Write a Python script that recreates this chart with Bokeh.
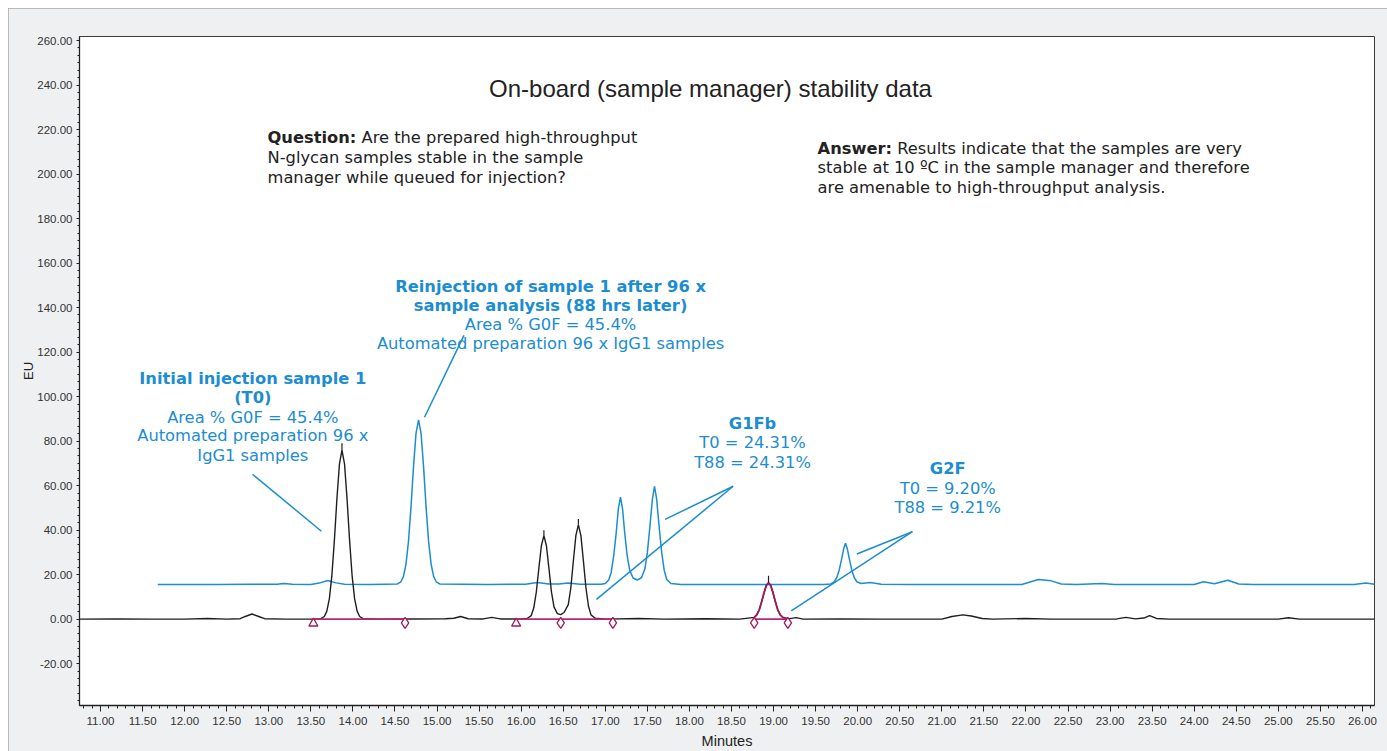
import numpy as np
from bokeh.plotting import figure
from bokeh.models import Range1d, FixedTicker, PrintfTickFormatter, Label
from bokeh.embed import file_html
from bokeh.resources import INLINE

# ---------------- data ----------------
# T0 (initial injection) trace, minutes / EU
t0_time = [10.75, 11.20, 11.60, 12.00, 12.27, 12.50, 12.66, 12.72, 12.80, 12.88, 12.95,
           13.20, 13.50, 13.62, 13.66, 13.69, 13.72, 13.75, 13.78, 13.81, 13.84, 13.87,
           13.90, 13.93, 13.96, 13.99, 14.02, 14.05, 14.08, 14.12, 14.30, 14.70, 15.10,
           15.20, 15.28, 15.37, 15.55, 15.65, 15.75, 16.00, 16.07, 16.12, 16.15, 16.18,
           16.21, 16.24, 16.27, 16.30, 16.33, 16.36, 16.39, 16.43, 16.47, 16.51, 16.56,
           16.59, 16.62, 16.65, 16.68, 16.71, 16.74, 16.77, 16.80, 16.83, 16.88, 17.00,
           17.40, 17.70, 18.20, 18.60, 18.77, 18.80, 18.83, 18.86, 18.89, 18.915, 18.94,
           18.965, 18.99, 19.02, 19.05, 19.08, 19.11, 19.17, 19.27, 19.35, 19.80, 20.30,
           21.00, 21.12, 21.25, 21.35, 21.48, 21.60, 22.00, 22.30, 23.08, 23.19, 23.30,
           23.40, 23.47, 23.55, 23.70, 25.00, 25.12, 25.25, 26.143]
t0_eu = [0.0, 0.1, 0.0, 0.0, 0.3, 0.0, 0.2, 1.2, 2.3, 1.2, 0.2,
         0.0, 0.0, 0.2, 1.2, 3.6, 9.2, 19.7, 35.6, 54.2, 69.8, 76.0,
         69.8, 54.2, 35.6, 19.7, 9.2, 3.6, 1.2, 0.2, 0.0, 0.1, 0.2,
         0.4, 1.2, 0.2, 0.1, 0.8, 0.1, 0.1, 0.3, 1.6, 5.1, 12.2,
         22.8, 33.0, 37.5, 33.0, 22.8, 12.2, 5.5, 2.5, 2.0, 3.0, 6.5,
         14.0, 26.0, 37.5, 42.5, 37.5, 26.0, 14.0, 5.8, 1.9, 0.4, 0.0,
         0.3, 0.0, 0.2, 0.0, 0.8, 1.9, 4.2, 8.0, 12.3, 15.2, 16.3,
         15.2, 12.3, 8.0, 4.2, 1.9, 0.8, 0.1, 0.7, 0.0, 0.1, 0.0,
         0.0, 1.2, 1.9, 1.4, 0.3, 0.0, 0.3, 0.0, 0.1, 0.8, 0.1,
         0.5, 1.6, 0.3, 0.0, 0.0, 0.6, 0.0, 0.0]

# T88 (reinjection 88 hrs later) trace, minutes / EU
t88_time = [11.68, 12.00, 12.40, 12.80, 13.10, 13.18, 13.28, 13.50, 13.60, 13.70, 13.80,
            13.90, 14.20, 14.53, 14.57, 14.60, 14.63, 14.66, 14.69, 14.72, 14.75, 14.78,
            14.81, 14.84, 14.87, 14.90, 14.93, 14.96, 14.99, 15.03, 15.60, 16.05, 16.19,
            16.33, 16.45, 16.56, 16.70, 16.95, 17.00, 17.04, 17.07, 17.10, 17.13, 17.155,
            17.18, 17.205, 17.23, 17.26, 17.29, 17.33, 17.38, 17.43, 17.47, 17.50, 17.53,
            17.56, 17.585, 17.61, 17.64, 17.67, 17.70, 17.73, 17.78, 17.90, 18.40, 19.00,
            19.60, 19.68, 19.72, 19.75, 19.78, 19.81, 19.835, 19.855, 19.875, 19.90, 19.93,
            19.96, 19.99, 20.04, 20.15, 20.28, 20.60, 21.50, 21.95, 22.05, 22.15, 22.30,
            22.42, 22.60, 22.90, 23.05, 24.00, 24.11, 24.24, 24.40, 24.53, 24.70, 25.90,
            26.04, 26.143]
t88_eu = [15.6, 15.6, 15.6, 15.7, 15.7, 16.0, 15.7, 15.6, 16.2, 17.4, 16.3,
          15.7, 15.6, 15.8, 16.8, 19.1, 24.5, 34.7, 50.2, 68.3, 83.5, 89.5,
          83.5, 68.3, 50.2, 34.7, 24.5, 19.1, 16.8, 15.8, 15.6, 15.7, 16.5,
          15.8, 15.8, 16.2, 15.7, 15.7, 16.0, 17.6, 21.0, 28.5, 39.0, 49.5,
          54.8, 49.5, 39.0, 28.5, 22.0, 18.5, 17.6, 18.6, 22.5, 30.0, 41.5,
          54.0, 59.7, 54.0, 41.5, 30.0, 22.0, 17.8, 16.0, 15.6, 15.6, 15.6,
          15.6, 15.8, 16.8, 18.6, 22.0, 27.2, 31.9, 34.1, 31.9, 27.2, 22.0,
          18.6, 16.8, 16.0, 16.5, 15.7, 15.6, 15.6, 15.6, 16.7, 17.8, 17.2,
          15.8, 15.6, 16.0, 15.6, 15.6, 16.8, 15.9, 17.5, 15.8, 15.6, 15.6,
          16.2, 15.7]

# integration marks (start / end of integrated peaks)
mark_time = [13.53, 14.62, 15.94, 16.47, 17.09, 18.77, 19.17]
mark_eu = [-1.9, -1.7, -1.9, -1.7, -1.7, -1.7, -1.7]
mark_shape = ["triangle", "diamond", "triangle", "diamond", "diamond", "diamond", "diamond"]
base_start = [13.53, 15.94, 18.77]
base_end = [14.62, 17.09, 19.17]

# apex markers of T0 peaks
apex_time = [13.87, 16.27, 16.68, 18.94]
apex_eu = [76.0, 37.5, 42.5, 16.3]
apex_top = [79.0, 40.0, 45.0, 19.5]

# highlighted (G2F) peak window
g2f_window = (18.77, 19.17)

x_major = [11.0 + 0.5 * i for i in range(31)]
y_major = [-20.0 + 20.0 * i for i in range(15)]

# ---------------- styling ----------------
BLACK = "#1f1f1f"
BLUE = "#1b8dd0"
MAG = "#a3195b"
MAG_L = "#b52a72"
ANNOT_FONT = "DejaVu Sans"
AX_FONT = "Liberation Sans"
FS = "16.3px"

p = figure(width=1379, height=743,
           x_range=Range1d(10.75, 26.143), y_range=Range1d(-38.8, 261.8),
           output_backend="svg", toolbar_location=None,
           min_border_left=71, min_border_top=28, min_border_right=13, min_border_bottom=46,
           background_fill_color="white", border_fill_color="#EFF0F2")
p.styles = {"margin-left": "8px", "margin-top": "8px",
            "outline": "2px solid #A8A8A8", "outline-offset": "-2px"}
p.outline_line_color = "#3a3a3a"
p.outline_line_width = 1
p.grid.visible = False

# axes
p.xaxis.ticker = FixedTicker(ticks=x_major,
                             minor_ticks=list(np.round(np.arange(10.8, 26.15, 0.1), 2)))
p.yaxis.ticker = FixedTicker(ticks=y_major,
                             minor_ticks=list(np.arange(-40.0, 262.0, 20.0 / 6)))
p.xaxis.formatter = PrintfTickFormatter(format="%.2f")
p.yaxis.formatter = PrintfTickFormatter(format="%.2f")
for ax in (p.xaxis[0], p.yaxis[0]):
    ax.axis_line_color = "#222222"
    ax.axis_line_width = 1.3
    ax.major_tick_line_color = "#222222"
    ax.minor_tick_line_color = "#222222"
    ax.major_tick_in = 0
    ax.minor_tick_in = 0
    ax.major_label_text_font = AX_FONT
    ax.major_label_text_font_size = "11.5px"
    ax.major_label_text_color = "#333333"
    ax.axis_label_text_font = AX_FONT
    ax.axis_label_text_font_style = "normal"
    ax.axis_label_text_color = "#222222"
p.xaxis.major_tick_out = 6
p.xaxis.minor_tick_out = 3
p.xaxis.major_label_standoff = 5
p.xaxis.axis_label = "Minutes"
p.xaxis.axis_label_text_font_size = "14.5px"
p.xaxis.axis_label_standoff = 5
p.yaxis.major_tick_out = 3
p.yaxis.minor_tick_out = 2
p.yaxis.major_label_standoff = 4
p.yaxis.axis_label = "EU"
p.yaxis.axis_label_text_font_size = "13px"
p.yaxis.axis_label_standoff = -2

# traces
p.line(t88_time, t88_eu, line_color=BLUE, line_width=1.5)
p.line(t0_time, t0_eu, line_color=BLACK, line_width=1.4)

# integration baselines and highlighted peak
p.segment(x0=base_start, y0=[0] * len(base_start), x1=base_end, y1=[0] * len(base_end),
          line_color=MAG_L, line_width=1.6)
t0_arr = np.array(t0_time)
sel = (t0_arr >= g2f_window[0]) & (t0_arr <= g2f_window[1])
p.line(list(t0_arr[sel]), list(np.array(t0_eu)[sel]), line_color=MAG, line_width=1.8)

# apex ticks
p.segment(x0=apex_time, y0=apex_eu, x1=apex_time, y1=apex_top, line_color=BLACK, line_width=1.2)

# integration marks
for shp in ("triangle", "diamond"):
    xs = [t for t, s in zip(mark_time, mark_shape) if s == shp]
    ys = [e for e, s in zip(mark_eu, mark_shape) if s == shp]
    p.scatter(xs, ys, marker=shp, size=9 if shp == "triangle" else 11,
              fill_color="white", line_color=MAG, line_width=1.3)

# callout lines
p.segment(x0=[12.806, 15.32, 18.52, 18.52, 20.65, 20.65],
          y0=[65.1, 127.5, 59.7, 59.7, 39.3, 39.3],
          x1=[13.626, 14.851, 17.71, 16.895, 19.99, 19.21],
          y1=[39.5, 90.7, 44.8, 8.85, 29.3, 3.7],
          line_color=BLUE, line_width=1.5)


def lab(x, y, text, color="#222222", bold=False, align="center", size=FS, font=ANNOT_FONT):
    p.add_layout(Label(x=x, y=y, text=text, text_color=color, text_font=font,
                       text_font_size=size, text_font_style="bold" if bold else "normal",
                       text_align=align, text_baseline="middle"))


# title
lab(18.25, 238.4, "On-board (sample manager) stability data", size="24px", font=AX_FONT)

# question / answer
lab(12.985, 216.4, "Question:", bold=True, align="left")
lab(14.102, 216.4, "Are the prepared high-throughput", align="left")
lab(12.985, 207.5, "N-glycan samples stable in the sample", align="left")
lab(12.985, 198.5, "manager while queued for injection?", align="left")

lab(19.523, 211.5, "Answer:", bold=True, align="left")
lab(20.47, 211.5, "Results indicate that the samples are very", align="left")
lab(19.523, 203.0, "stable at 10 \u00baC in the sample manager and therefore", align="left")
lab(19.523, 194.0, "are amenable to high-throughput analysis.", align="left")

# blue annotations
lab(16.349, 149.5, "Reinjection of sample 1 after 96 x", color=BLUE, bold=True)
lab(16.349, 141.0, "sample analysis (88 hrs later)", color=BLUE, bold=True)
lab(16.349, 132.5, "Area % G0F = 45.4%", color=BLUE)
lab(16.349, 123.9, "Automated preparation 96 x IgG1 samples", color=BLUE)

lab(12.81, 108.2, "Initial injection sample 1", color=BLUE, bold=True)
lab(12.81, 99.7, "(T0)", color=BLUE, bold=True)
lab(12.81, 90.7, "Area % G0F = 45.4%", color=BLUE)
lab(12.81, 82.6, "Automated preparation 96 x", color=BLUE)
lab(12.81, 73.6, "IgG1 samples", color=BLUE)

lab(18.75, 88.0, "G1Fb", color=BLUE, bold=True)
lab(18.75, 79.5, "T0 = 24.31%", color=BLUE)
lab(18.75, 70.5, "T88 = 24.31%", color=BLUE)

lab(21.07, 67.8, "G2F", color=BLUE, bold=True)
lab(21.07, 58.8, "T0 = 9.20%", color=BLUE)
lab(21.07, 50.3, "T88 = 9.21%", color=BLUE)

open("out.html", "w").write(file_html(p, INLINE))
